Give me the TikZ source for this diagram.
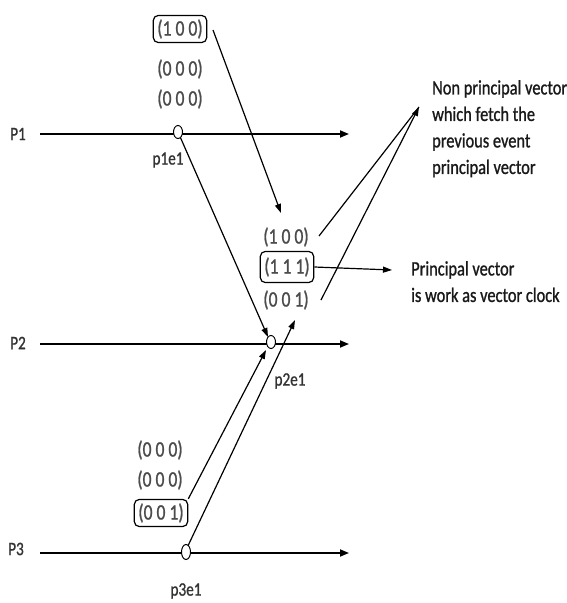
\documentclass[tikz,border=0pt]{standalone}
\usepackage{fontspec}
\setmainfont{Carlito}[FakeStretch=0.8,FakeBold=1]
\usetikzlibrary{arrows.meta,shapes.geometric}
\begin{document}
\begin{tikzpicture}[x=1pt,y=-1pt,
  tl/.style={line width=1.7pt,-{Triangle[length=9pt,width=7pt]}},
  msg/.style={line width=1.2pt,-{Triangle[length=9pt,width=6pt]}},
  plain/.style={line width=1.2pt},
  ev/.style={ellipse,draw,line width=1pt,fill=white,minimum width=9pt,minimum height=13pt,inner sep=0pt},
  vec/.style={font=\fontsize{22}{24}\selectfont,text=black!70,inner sep=1pt},
  vbox/.style={vec,draw=black,rounded corners=5pt,line width=1.2pt,inner xsep=4pt,inner ysep=4pt},
  lbl/.style={font=\fontsize{19}{21}\selectfont,text=black!80},
  note/.style={align=left,font=\fontsize{20.5}{26.5}\selectfont,anchor=north west,inner sep=0pt,text=black!90}]
\useasboundingbox (0,0) rectangle (566,603);
% time lines
\coordinate (a1) at (40,134);  \coordinate (z1) at (349,134);
\coordinate (a2) at (40,344);  \coordinate (z2) at (349,344);
\coordinate (a3) at (40,553);  \coordinate (z3) at (349,553);
\draw[tl] (a1) -- (z1);
\draw[tl] (a2) -- (z2);
\draw[tl] (a3) -- (z3);
\node[lbl] (P1) at (18,134) {P1};
\node[lbl] (P2) at (18,343) {P2};
\node[lbl] (P3) at (16,549) {P3};
% vectors of p1e1
\node[vbox] (b11) at (180,29) {(1 0 0)};
\node[vec] (v12) at (180,69) {(0 0 0)};
\node[vec] (v13) at (180,99) {(0 0 0)};
% vectors of p2e1
\node[vec] (v21) at (286,237) {(1 0 0)};
\node[vbox,inner ysep=6pt] (b22) at (287,267) {(1 1 1)};
\node[vec] (v23) at (286,300) {(0 0 1)};
% vectors of p3e1
\node[vec] (v31) at (160,450) {(0 0 0)};
\node[vec] (v32) at (160,480) {(0 0 0)};
\node[vbox] (b33) at (161,513) {(0 0 1)};
% free ends
\coordinate (s1) at (213,30);
\coordinate (t1) at (281,213);
\coordinate (t2) at (295,320);
\coordinate (t3) at (392,270);
\coordinate (t4) at (419,107);
\coordinate (s4) at (319,236);
\coordinate (s5) at (321,300);
% messages
\draw[msg] (s1) -- (t1);
\draw[msg] (178,132) -- (268,337);
\draw[msg] (b33.north east) -- (266,350);
\draw[msg] (186,550) -- (t2);
\draw[msg] (b22.east) -- (t3);
\draw[plain] (s4) -- (t4);
\draw[msg] (s5) -- (t4);
% events
\node[ev] (e1) at (178,132) {};
\node[ev] (e2) at (271,342) {};
\node[ev,minimum height=15pt] (e3) at (186,552) {};
\node[lbl] (l1) at (168,160) {p1e1};
\node[lbl] (l2) at (290,381) {p2e1};
\node[lbl] (l3) at (186,591) {p3e1};
% notes
\node[note] (n1) at (432,80) {Non principal vector\\which fetch the\\previous event\\principal vector};
\node[note] (n2) at (411,261) {Principal vector\\is work as vector clock};
\end{tikzpicture}
\end{document}
